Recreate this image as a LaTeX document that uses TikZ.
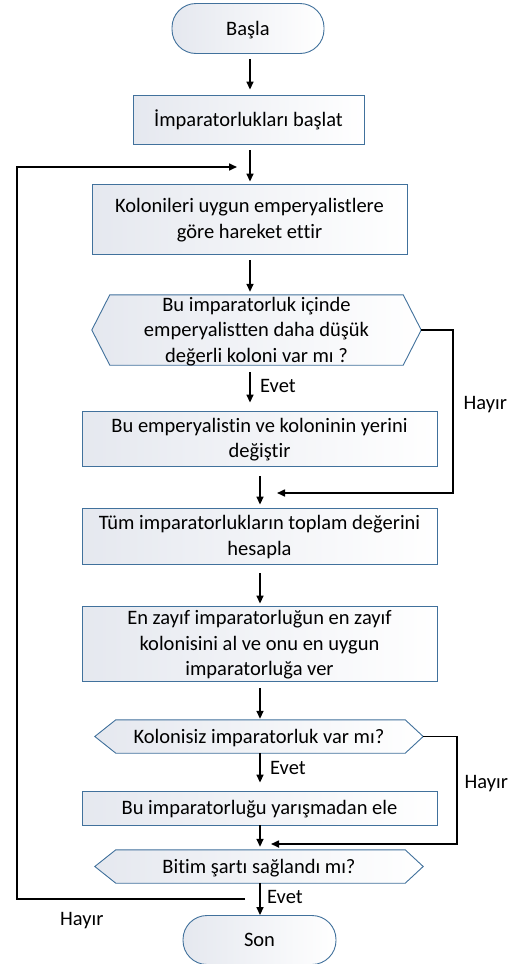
\documentclass[tikz,border=0pt]{standalone}
\usepackage{fontspec}
\setmainfont{Carlito}[Ligatures=NoCommon]
\usetikzlibrary{arrows.meta,backgrounds,calc}
\definecolor{edgeblue}{HTML}{41719C}
\definecolor{shadeL}{HTML}{E5E8EF}
% centred block of lines with a fixed pitch, set slightly low in its box;
% its nominal height is trimmed so the box sizes stay as given
\newcommand\boxtext[1]{\raisebox{-1.5pt}[\dimexpr\height-5pt\relax][\dimexpr\depth-5pt\relax]{\begin{tabular}{@{}c@{}}#1\end{tabular}}}
\tikzset{
  txt/.style={font=\fontsize{20.5}{25.5}\selectfont},
  box/.style={txt, draw=edgeblue, line width=0.9pt, left color=shadeL, right color=white,
    inner sep=0pt},
  term/.style={box, rounded corners=24pt},
  hexbody/.style={txt, inner sep=0pt},
  hexline/.style={draw=edgeblue, line width=0.9pt, left color=shadeL, right color=white},
  flow/.style={line width=1.6pt, -{Triangle[length=8pt,width=7pt]}},
  lbl/.style={txt, inner sep=0pt, anchor=base west},
}
\begin{document}
\begin{tikzpicture}[x=1pt,y=-1pt]
\useasboundingbox (0,0) rectangle (515,964);

% process boxes and terminators
\node[term, minimum width=152pt, minimum height=50pt] (start) at (248,28.5) {\boxtext{Başla}};
\node[box, minimum width=231pt, minimum height=49pt] (init) at (248.5,119.5) {\boxtext{İmparatorlukları başlat}};
\node[box, minimum width=315pt, minimum height=70pt] (move) at (249.5,219) {\boxtext{Kolonileri uygun emperyalistlere\\göre hareket ettir}};
\node[hexbody, minimum width=329pt, minimum height=70pt] (q1) at (256.5,330) {\boxtext{Bu imparatorluk içinde\\emperyalistten daha düşük\\değerli koloni var mı ?}};
\node[box, minimum width=355pt, minimum height=55pt] (swap) at (259.5,438.5) {\boxtext{Bu emperyalistin ve koloninin yerini\\değiştir}};
\node[box, minimum width=355pt, minimum height=56pt] (total) at (259.5,536) {\boxtext{Tüm imparatorlukların toplam değerini\\hesapla}};
\node[box, minimum width=355pt, minimum height=75pt] (weak) at (259.5,643.5) {\boxtext{En zayıf imparatorluğun en zayıf\\kolonisini al ve onu en uygun\\imparatorluğa ver}};
\node[hexbody, minimum width=328pt, minimum height=33pt] (q2) at (259,736.5) {\boxtext{Kolonisiz imparatorluk var mı?}};
\node[box, minimum width=355pt, minimum height=34pt] (drop) at (259.5,808) {\boxtext{Bu imparatorluğu yarışmadan ele}};
\node[hexbody, minimum width=328pt, minimum height=33pt] (q3) at (259,866.5) {\boxtext{Bitim şartı sağlandı mı?}};
\node[term, minimum width=153pt, minimum height=49pt] (stop) at (259.5,940) {\boxtext{Son}};

% hexagonal decision outlines behind their text
\begin{scope}[on background layer]
  \path[hexline] (q1.west) -- ([xshift=18pt]q1.north west) -- ([xshift=-18pt]q1.north east)
    -- (q1.east) -- ([xshift=-18pt]q1.south east) -- ([xshift=18pt]q1.south west) -- cycle;
  \path[hexline] (q2.west) -- ([xshift=21pt]q2.north west) -- ([xshift=-18pt]q2.north east)
    -- (q2.east) -- ([xshift=-18pt]q2.south east) -- ([xshift=21pt]q2.south west) -- cycle;
  \path[hexline] (q3.west) -- ([xshift=21pt]q3.north west) -- ([xshift=-18pt]q3.north east)
    -- (q3.east) -- ([xshift=-18pt]q3.south east) -- ([xshift=21pt]q3.south west) -- cycle;
\end{scope}

% helper coordinates for the connector columns and loop corners
\coordinate (colA) at (250,0);
\coordinate (colB) at (260,0);
\coordinate (rail1) at (453,0);
\coordinate (join1) at (277,493);
\coordinate (rail2) at (457,0);
\coordinate (join2) at (271,844);
\coordinate (back0) at (245,899);
\coordinate (railL) at (17,0);
\coordinate (back1) at (237,167);

% main flow
\draw[flow, shorten <=5pt, shorten >=5pt] (start.south -| colA) -- (init.north -| colA);
\draw[flow, shorten <=6pt, shorten >=2pt] (init.south -| colA) -- (move.north -| colA);
\draw[flow, shorten <=6pt, shorten >=3pt] (move.south -| colA) -- (q1.north -| colA);
\draw[flow, shorten <=7pt, shorten >=8pt] (q1.south -| colA) -- (swap.north -| colA);
\draw[flow, shorten <=10pt, shorten >=3pt] (swap.south -| colB) -- (total.north -| colB);
\draw[flow, shorten <=9pt, shorten >=2pt] (total.south -| colB) -- (weak.north -| colB);
\draw[flow, shorten <=7pt, shorten >=1pt] (weak.south -| colB) -- (q2.north -| colB);
\draw[flow, shorten >=8pt] (q2.south -| colB) -- (drop.north -| colB);
\draw[flow, shorten >=3pt] (drop.south -| colB) -- (q3.north -| colB);
\draw[flow] (q3.south -| colB) -- (stop.north -| colB);

% "no" branches
\draw[flow] (q1.east) -- (q1.east -| rail1) |- (join1);
\draw[flow] (q2.east) -- (q2.east -| rail2) |- (join2);
\draw[flow] (back0) -- (back0 -| railL) |- (back1);

% branch labels
\node[lbl] (e1) at (260,392) {Evet};
\node[lbl] (e2) at (270,774) {Evet};
\node[lbl] (e3) at (267,903) {Evet};
\node[lbl] (h1) at (463.5,409) {Hayır};
\node[lbl] (h2) at (464.5,788) {Hayır};
\node[lbl] (h3) at (60,925) {Hayır};
\end{tikzpicture}
\end{document}
